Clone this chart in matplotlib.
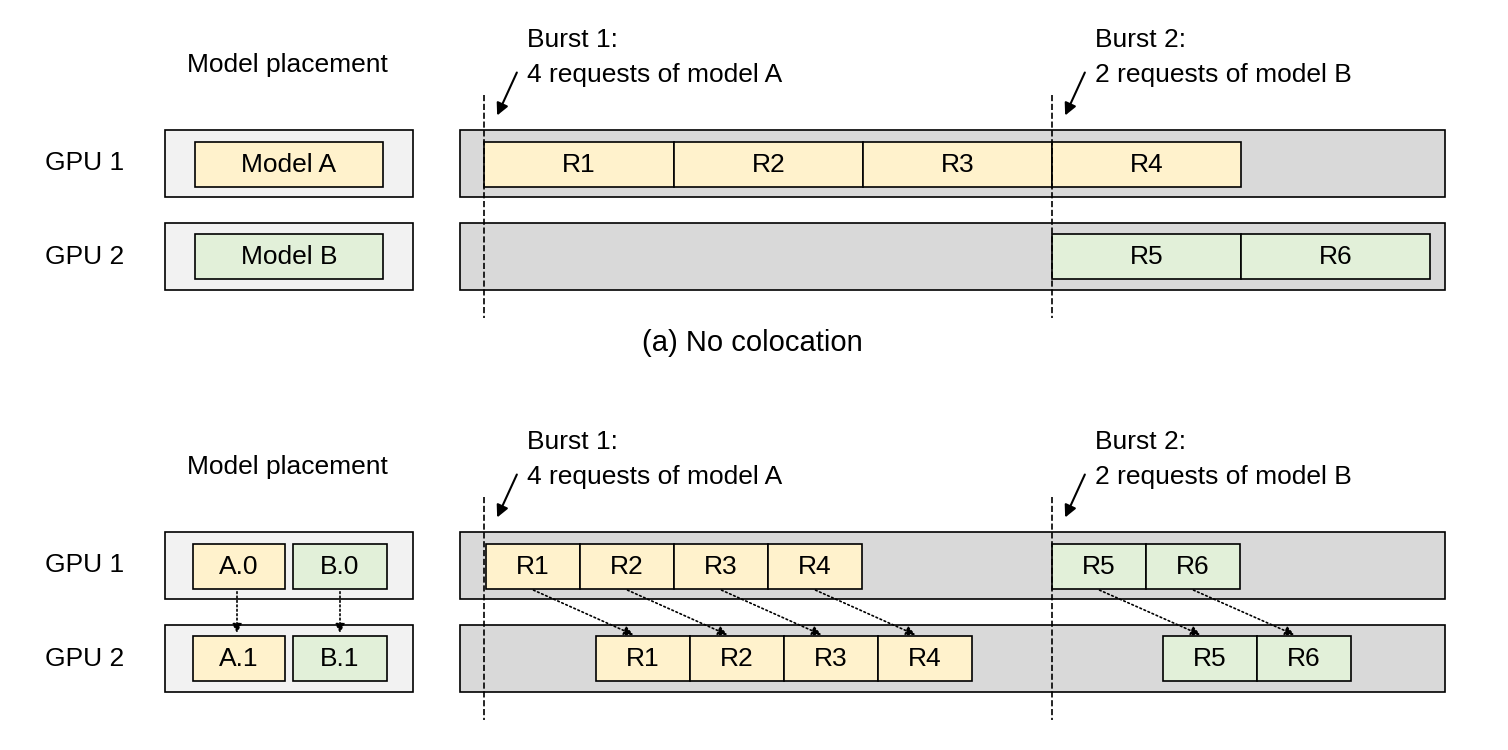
import matplotlib.pyplot as plt
from matplotlib.patches import Rectangle

plt.rcParams['font.family'] = ['Liberation Sans', 'DejaVu Sans']

YELLOW = '#fff2cc'
GREEN = '#e2f0d9'
GRAY = '#d9d9d9'
LIGHT = '#f2f2f2'

# request slots (start x, end x, label, colour) in pixel units of the drawing
top_gpu1 = [(484, 674, 'R1', YELLOW), (674, 863, 'R2', YELLOW),
            (863, 1052, 'R3', YELLOW), (1052, 1241, 'R4', YELLOW)]
top_gpu2 = [(1052, 1241, 'R5', GREEN), (1241, 1430, 'R6', GREEN)]
bot_gpu1 = [(486, 580, 'R1', YELLOW), (580, 674, 'R2', YELLOW),
            (674, 768, 'R3', YELLOW), (768, 862, 'R4', YELLOW),
            (1052, 1146, 'R5', GREEN), (1146, 1240, 'R6', GREEN)]
bot_gpu2 = [(596, 690, 'R1', YELLOW), (690, 784, 'R2', YELLOW),
            (784, 878, 'R3', YELLOW), (878, 972, 'R4', YELLOW),
            (1163, 1257, 'R5', GREEN), (1257, 1351, 'R6', GREEN)]
burst_x = [484, 1052]
burst_text = ['Burst 1:\n4 requests of model A', 'Burst 2:\n2 requests of model B']

fig = plt.figure(figsize=(15.08, 7.5), dpi=100)
ax = fig.add_axes([0, 0, 1, 1])
ax.set_xlim(0, 1508)
ax.set_ylim(750, 0)
ax.axis('off')
FS = 19


def box(x0, x1, y0, y1, fc, label=None):
    ax.add_patch(Rectangle((x0, y0), x1 - x0, y1 - y0, fc=fc, ec='black', lw=1.2))
    if label:
        ax.text((x0 + x1) / 2, (y0 + y1) / 2 + 1, label, ha='center', va='center', fontsize=FS)


def panel(off, gpu1, gpu2, placement):
    ax.text(287, 65 + off, 'Model placement', ha='center', va='center', fontsize=FS)
    for y0, y1, name in [(130, 197, 'GPU 1'), (223, 290, 'GPU 2')]:
        ax.text(85, (y0 + y1) / 2 + off, name, ha='center', va='center', fontsize=FS)
        box(165, 413, y0 + off, y1 + off, LIGHT)
        box(460, 1445, y0 + off, y1 + off, GRAY)
    for x0, x1, y0, lab, c in placement:
        box(x0, x1, y0 + off, y0 + 45 + off, c, lab)
    for reqs, y0 in [(gpu1, 142), (gpu2, 234)]:
        for x0, x1, lab, c in reqs:
            box(x0, x1, y0 + off, y0 + 45 + off, c, lab)
    for bx, t in zip(burst_x, burst_text):
        ax.plot([bx, bx], [95 + off, 318 + off], ls='--', color='black', lw=1.2)
        ax.annotate('', xy=(bx + 12, 118 + off), xytext=(bx + 34, 70 + off),
                    arrowprops=dict(arrowstyle='-|>', color='black', lw=1.5, mutation_scale=18))
        ax.text(bx + 43, 28 + off, t, ha='left', va='top', fontsize=FS, linespacing=1.6)


panel(0, top_gpu1, top_gpu2,
      [(195, 383, 142, 'Model A', YELLOW), (195, 383, 234, 'Model B', GREEN)])
ax.text(752, 343, '(a) No colocation', ha='center', va='center', fontsize=21)

off = 402
panel(off, bot_gpu1, bot_gpu2,
      [(193, 285, 142, 'A.0', YELLOW), (293, 387, 142, 'B.0', GREEN),
       (193, 285, 234, 'A.1', YELLOW), (293, 387, 234, 'B.1', GREEN)])
# dotted replication arrows
for x in [237, 340]:
    ax.annotate('', xy=(x, 234 + off), xytext=(x, 187 + off),
                arrowprops=dict(arrowstyle='-|>', color='black', lw=1.2, ls=':', mutation_scale=14))
for (a0, a1, _, _), (b0, b1, _, _) in zip(bot_gpu1, bot_gpu2):
    ax.annotate('', xy=(b0 + 40, 234 + off), xytext=(a0 + 45, 187 + off),
                arrowprops=dict(arrowstyle='-|>', color='black', lw=1.2, ls=':', mutation_scale=14))

fig.savefig('out.png', dpi=100)
